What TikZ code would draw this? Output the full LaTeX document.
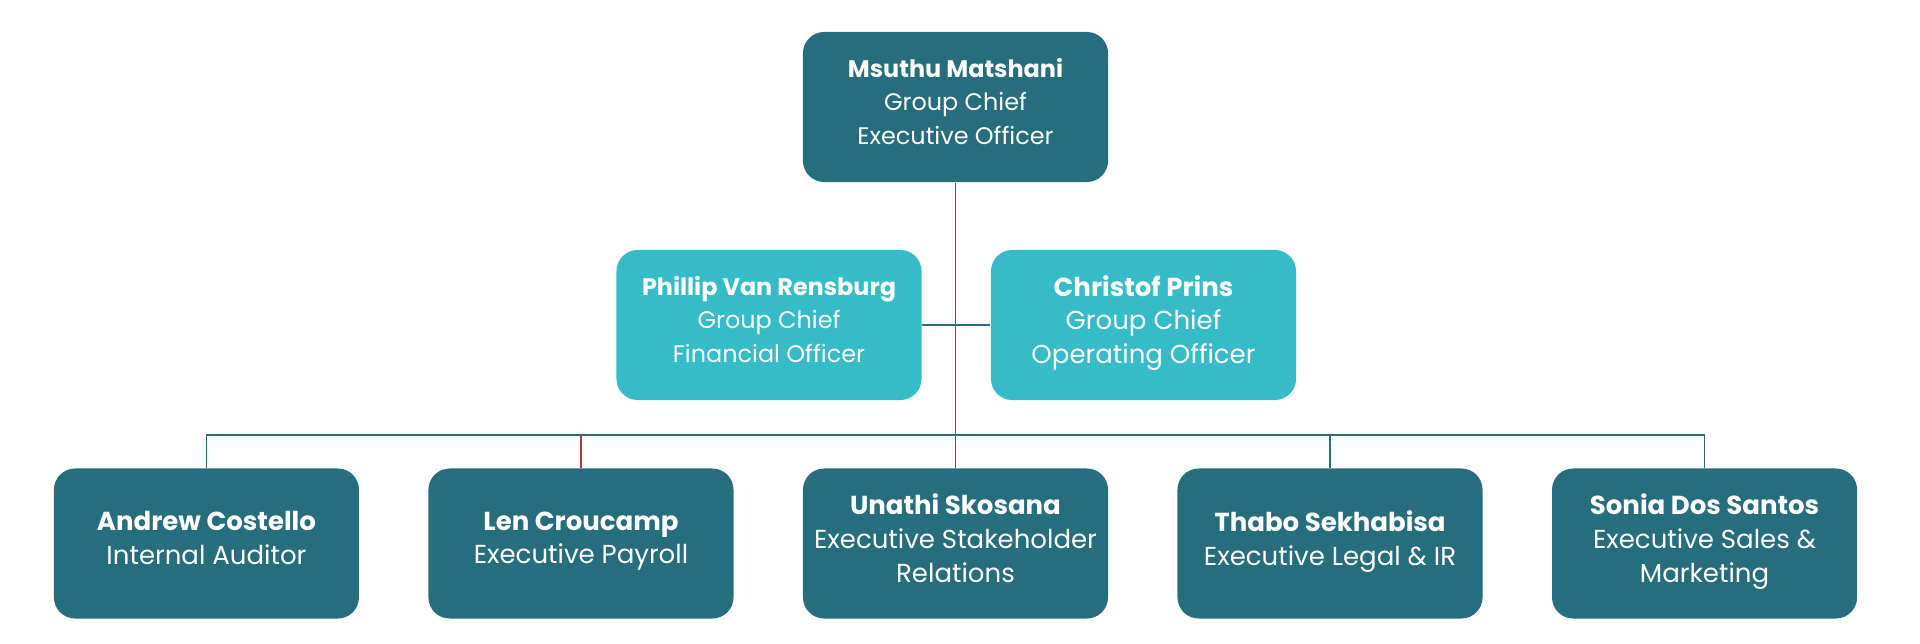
\documentclass[tikz,border=0pt]{standalone}
\usepackage{fontspec}
\setmainfont{Poppins}
\usetikzlibrary{positioning}

\definecolor{darkteal}{HTML}{266E7E}
\definecolor{lightteal}{HTML}{35BCC8}
\definecolor{linkred}{HTML}{B03A3A}

\begin{document}
\begin{tikzpicture}[
			x = 0.025cm, y = -0.025cm, % pixel units
			node distance = 1.69cm, % gap between boxes
			line width = 1.3pt, % line style
			font=\fontsize{18.5}{24}\selectfont
			]
			
			\tikzstyle{darkbox}=[
			rectangle,
			rounded corners = 0.53cm,
			fill = darkteal,
			text = white,
			align = center,
			inner sep = 0pt,
			minimum width = 7.625cm,
			minimum height = 3.75cm,
			execute at end node = {\rule[-8pt]{0pt}{8pt}} % fixed room below last line
			]
			\tikzstyle{lightbox}=[darkbox, fill = lightteal]
			\tikzstyle{small}=[font = \fontsize{17}{24}\selectfont]
			\tikzstyle{link}=[draw = darkteal]
			
			\useasboundingbox (0,0) rectangle (1920,644);
			
			\node[darkbox, small] (ceo) at (955.5,107) {\textbf{Msuthu Matshani}\\Group Chief\\Executive Officer};
			\node[lightbox, small] (cfo) at (769,325) {\textbf{Phillip Van Rensburg}\\Group Chief\\Financial Officer};
			\node[lightbox] (coo) [right=of cfo] {\textbf{Christof Prins}\\Group Chief\\Operating Officer};
			
			\node[darkbox] (unathi) at (955.5,543.5) {\textbf{Unathi Skosana}\\Executive Stakeholder\\Relations};
			\node[darkbox] (len) [left=of unathi] {\textbf{Len Croucamp}\\Executive Payroll};
			\node[darkbox] (andrew) [left=of len] {\textbf{Andrew Costello}\\Internal Auditor};
			\node[darkbox] (thabo) [right=of unathi] {\textbf{Thabo Sekhabisa}\\Executive Legal \& IR};
			\node[darkbox] (sonia) [right=of thabo] {\textbf{Sonia Dos Santos}\\Executive Sales \&\\Marketing};
			
			\coordinate (bus) at (0,435);
			
			\draw[link] (ceo) -- (unathi);
			\draw[link] (cfo) -- (coo);
			\draw[link] (andrew.north) -- (andrew.north |- bus) -- (sonia.north |- bus) -- (sonia.north);
			\draw[link] (thabo.north) -- (thabo.north |- bus);
			\draw[link, draw = linkred] (len.north) -- (len.north |- bus);
		\end{tikzpicture}
\end{document}
